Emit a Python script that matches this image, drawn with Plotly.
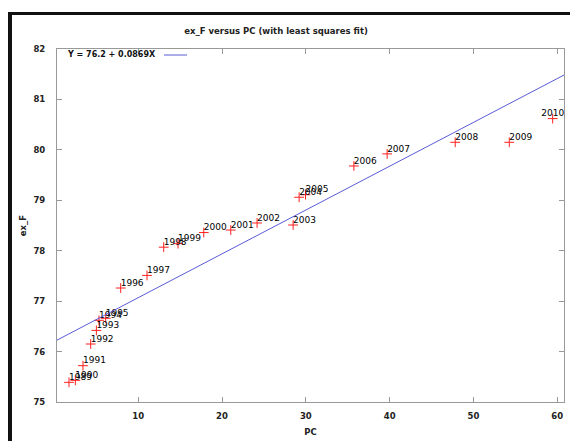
import plotly.graph_objects as go

years = [1989, 1990, 1991, 1992, 1993, 1994, 1995, 1996, 1997, 1998, 1999,
         2000, 2001, 2002, 2003, 2004, 2005, 2006, 2007, 2008, 2009, 2010]
pc = [1.74, 2.50, 3.41, 4.33, 5.01, 5.32, 6.12, 7.91, 11.05, 13.04, 14.75,
      17.82, 21.04, 24.18, 28.48, 29.20, 29.96, 35.73, 39.70, 47.82, 54.27, 59.45]
ex_f = [75.39, 75.43, 75.72, 76.15, 76.42, 76.62, 76.66, 77.26, 77.51, 78.07, 78.14,
        78.36, 78.41, 78.55, 78.51, 79.06, 79.11, 79.68, 79.92, 80.15, 80.15, 80.62]
intercept = 76.2
slope = 0.0869
x_range = [0.31, 60.8]
y_range = [75, 82]
x_ticks = [10, 20, 30, 40, 50, 60]
y_ticks = [75, 76, 77, 78, 79, 80, 81, 82]

font = "DejaVu Sans"
W, H = 570, 441
ml, mr, mt, mb = 57, 6, 49, 39
pw, ph = W - ml - mr, H - mt - mb

def px(x):
    return (x - ml) / pw

def py(y):
    return (H - mb - y) / ph

label_pos = ["top center" if y == years[-1] else "top right" for y in years]

fig = go.Figure()
fig.add_trace(go.Scatter(
    x=pc, y=ex_f, mode="markers",
    marker=dict(symbol="cross-thin", size=7, line=dict(color="#ff2020", width=1)),
    showlegend=False, cliponaxis=False,
))
fig.add_trace(go.Scatter(
    x=pc, y=ex_f, mode="text",
    text=[str(y) for y in years], textposition=label_pos,
    textfont=dict(family=font, size=9, color="#000"),
    showlegend=False, cliponaxis=False,
))
fig.add_trace(go.Scatter(
    x=x_range, y=[intercept + slope * v for v in x_range], mode="lines",
    line=dict(color="#5a5ad8", width=1), showlegend=False,
))

tickfont = dict(family=font, size=8.5, color="#222", weight="bold")
axis_common = dict(showline=True, linecolor="#999", linewidth=1, mirror="ticks",
                   ticks="inside", ticklen=5, tickcolor="#999", showgrid=False,
                   zeroline=False, tickfont=tickfont)
fig.update_xaxes(range=x_range, tickvals=x_ticks, ticklabelstandoff=6,
                 title=dict(text="PC", font=tickfont, standoff=8),
                 **axis_common)
fig.update_yaxes(range=y_range, tickvals=y_ticks, ticklabelstandoff=9,
                 title=dict(text="ex_F", font=tickfont, standoff=5),
                 **axis_common)

shapes = [
    dict(type="rect", xref="paper", yref="paper", x0=px(565.5), x1=px(571), y0=py(442), y1=py(16),
         fillcolor="white", line=dict(width=0), layer="above"),
    dict(type="rect", xref="paper", yref="paper", x0=px(8), x1=px(12), y0=py(441), y1=py(12),
         fillcolor="#111", line=dict(width=0), layer="above"),
    dict(type="rect", xref="paper", yref="paper", x0=px(8), x1=px(570), y0=py(15), y1=py(12),
         fillcolor="#111", line=dict(width=0), layer="above"),
    dict(type="line", xref="paper", yref="paper", x0=px(164), x1=px(187), y0=py(55), y1=py(55),
         line=dict(color="#5a5ad8", width=1)),
]
annotations = [
    dict(text="Y = 76.2 + 0.0869X", xref="paper", yref="paper", x=px(65), y=py(55),
         xanchor="left", yanchor="middle", showarrow=False,
         font=dict(family=font, size=8, color="#111", weight="bold")),
]

fig.update_layout(
    width=W, height=H,
    margin=dict(l=ml, r=mr, t=mt, b=mb),
    paper_bgcolor="white", plot_bgcolor="white",
    title=dict(text="ex_F versus PC (with least squares fit)", x=276 / W, xanchor="center",
               y=1 - 31 / H, yanchor="middle",
               font=dict(family=font, size=8.5, color="#222", weight="bold")),
    shapes=shapes, annotations=annotations,
)
fig.write_html("out.html")
